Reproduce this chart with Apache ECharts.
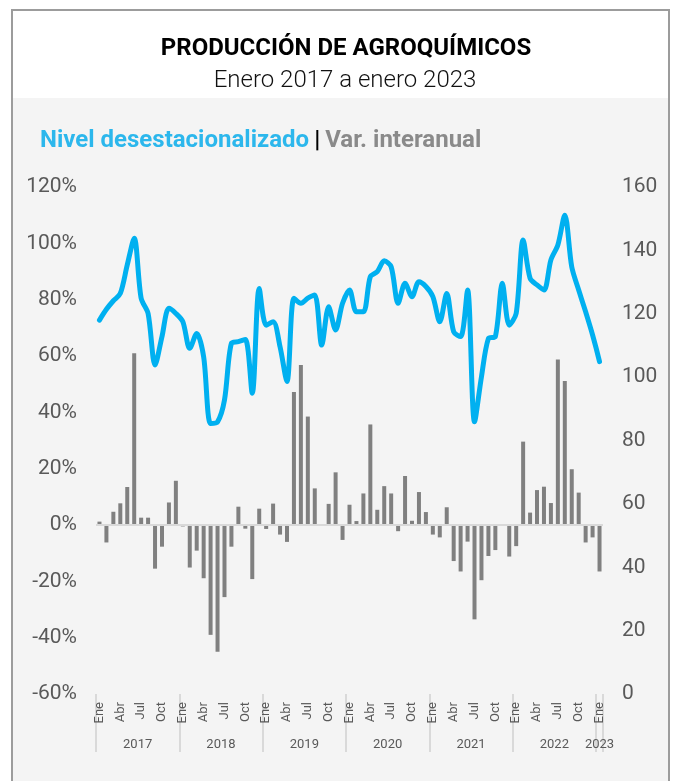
<!DOCTYPE html>
<html>
<head>
<meta charset="utf-8">
<script src="https://cdn.jsdelivr.net/npm/echarts@6/dist/echarts.min.js"></script>
<style>
body { margin: 0; background: #fff; }
#frame {
  position: absolute; left: 11px; top: 9px; width: 655px; height: 800px;
  border: 2px solid #9c9c9c; border-bottom: none;
  background: linear-gradient(#fff 0, #fff 87px, #f4f4f4 87px);
}
#chart { position: absolute; left: 0; top: 0; width: 676px; height: 781px; }
</style>
</head>
<body>
<div id="frame"></div>
<div id="chart"></div>
<script>
var monthNames = ['Ene', 'Feb', 'Mar', 'Abr', 'May', 'Jun', 'Jul', 'Ago', 'Sep', 'Oct', 'Nov', 'Dic']
var years = [2017, 2018, 2019, 2020, 2021, 2022, 2023]

// variación interanual (%), eje izquierdo
var varInteranual = [
  1.2, -6.2, 4.7, 7.7, 13.5, 61.0, 2.6, 2.6, -15.5, -7.7, 8.0, 15.7,
  -0.5, -15.1, -9.1, -18.9, -39.0, -45.0, -25.6, -7.7, 6.5, -1.3, -19.2, 5.8,
  -1.4, 7.6, -3.4, -6.0, 47.2, 56.8, 38.5, 13.0, 0.3, 7.5, 18.7, -5.3,
  7.2, 1.4, 11.2, 35.7, 5.4, 13.8, 11.2, -2.2, 17.4, 1.5, 11.7, 4.6,
  -3.4, -4.4, 6.3, -12.8, -16.5, -5.9, -33.5, -19.6, -11.0, -8.9, 0, -11.2,
  -7.5, 29.6, 4.4, 12.4, 13.6, 7.8, 58.8, 51.1, 19.8, 11.5, -6.2, -4.4,
  -16.5
]

// nivel desestacionalizado, eje derecho
var nivel = [
  118.0, 121.4, 124.1, 126.4, 135.4, 143.8, 124.9, 120.1, 103.8, 112.8, 121.7, 120.1,
  117.5, 109.1, 113.8, 106.4, 85.4, 85.9, 92.8, 110.7, 111.2, 111.9, 94.9, 128.0,
  116.4, 117.5, 109.6, 98.6, 124.9, 123.3, 124.9, 125.9, 110.1, 122.2, 114.9, 123.3,
  127.5, 120.6, 120.6, 131.7, 133.3, 136.7, 134.8, 123.3, 129.6, 125.4, 130.1, 128.6,
  125.4, 117.5, 126.4, 114.3, 112.8, 127.5, 85.9, 100.1, 112.2, 112.8, 129.6, 116.4,
  120.1, 143.3, 131.2, 129.1, 127.5, 137.0, 141.7, 151.1, 134.8, 127.5, 120.6, 113.3,
  104.9
]

var months = []
var monthYear = []
for (var i = 0; i < varInteranual.length; i++) {
  months.push(monthNames[i % 12])
  monthYear.push(years[Math.floor(i / 12)])
}

var labelColor = '#595959'
var font = 'Roboto'

const myChart = echarts.init(document.getElementById('chart'))
var option = {
  animation: false,
  title: [
    {
      text: 'PRODUCCIÓN DE AGROQUÍMICOS',
      left: 341, top: 32, textAlign: 'center',
      textStyle: { fontFamily: font, fontSize: 24, fontWeight: 'bold', color: '#000' }
    },
    {
      text: 'Enero 2017 a enero 2023',
      left: 340, top: 64, textAlign: 'center',
      textStyle: { fontFamily: font, fontSize: 24, fontWeight: 300, color: '#111' }
    },
    {
      text: '{a|Nivel desestacionalizado} {b||} {c|Var. interanual}',
      left: 35, top: 124,
      textStyle: {
        rich: {
          a: { fontFamily: font, fontSize: 24, fontWeight: 'bold', color: '#2cb7ec' },
          b: { fontFamily: font, fontSize: 24, color: '#000' },
          c: { fontFamily: font, fontSize: 24, fontWeight: 'bold', color: '#8a8a8a' }
        }
      }
    }
  ],
  grid: { left: 96, right: 73, top: 187, bottom: 87 },
  xAxis: [
    {
      type: 'category',
      data: months,
      position: 'bottom',
      axisLine: { show: false, onZero: false },
      axisTick: { show: false },
      axisLabel: {
        rotate: 90,
        margin: 8,
        interval: function(index) { return index % 3 === 0 },
        fontFamily: font, fontSize: 13, color: labelColor
      }
    },
    {
      type: 'category',
      data: monthYear,
      position: 'bottom',
      axisLine: { show: false, onZero: false },
      axisTick: {
        show: true,
        length: 58,
        interval: function(index) { return index % 12 === 0 },
        lineStyle: { color: '#d9d9d9', width: 2 }
      },
      axisLabel: {
        margin: 44,
        interval: function(index) { return index % 12 === 6 || index === 72 },
        formatter: function(value, index) {
          return index === 72 ? '{b|' + value + '}' : '{a|' + value + '}'
        },
        rich: {
          a: { fontFamily: font, fontSize: 13, color: labelColor, padding: [0, 7, 0, 0] },
          b: { fontFamily: font, fontSize: 13, color: labelColor }
        }
      }
    }
  ],
  yAxis: [
    {
      type: 'value',
      min: -60, max: 120, interval: 20,
      axisLine: { show: false },
      axisTick: { show: false },
      splitLine: { show: false },
      axisLabel: { formatter: '{value}%', margin: 19, fontFamily: font, fontSize: 21, color: labelColor }
    },
    {
      type: 'value',
      min: 0, max: 160, interval: 20,
      axisLine: { show: false },
      axisTick: { show: false },
      splitLine: { show: false },
      axisLabel: { margin: 19, fontFamily: font, fontSize: 21, color: labelColor }
    }
  ],
  series: [
    {
      name: 'Var. interanual',
      type: 'bar',
      xAxisIndex: 0,
      yAxisIndex: 0,
      data: varInteranual,
      barWidth: 4,
      itemStyle: { color: '#808080' },
      markLine: {
        silent: true,
        symbol: 'none',
        label: { show: false },
        lineStyle: { color: '#d9d9d9', width: 2, type: 'solid' },
        data: [{ yAxis: 0 }]
      }
    },
    {
      name: 'Nivel desestacionalizado',
      type: 'line',
      xAxisIndex: 0,
      yAxisIndex: 1,
      data: nivel,
      smooth: 0.3,
      symbol: 'none',
      z: 5,
      lineStyle: { width: 5, color: '#00b0f0', cap: 'round', join: 'round' }
    }
  ]
}
myChart.setOption(option)
</script>
</body>
</html>
